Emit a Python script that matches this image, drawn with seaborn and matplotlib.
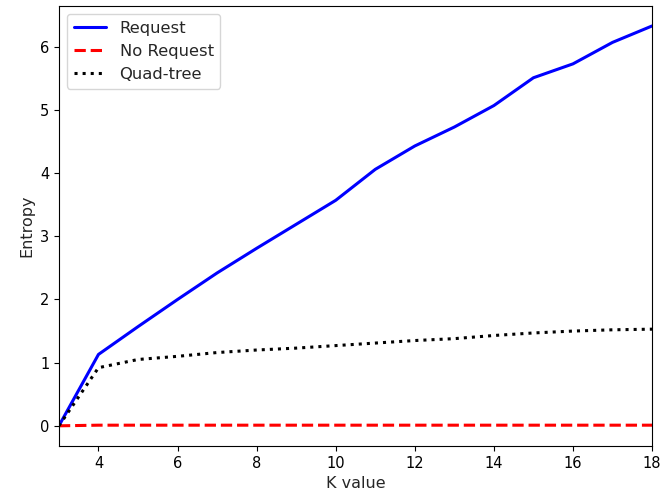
import matplotlib
matplotlib.use("Agg")
import matplotlib.pyplot as plt
import seaborn as sns
import pandas as pd

k_values = [3, 4, 5, 6, 7, 8, 9, 10, 11, 12, 13, 14, 15, 16, 17, 18]
request = [0.0, 1.13, 1.57, 2.0, 2.42, 2.81, 3.19, 3.57, 4.06, 4.43, 4.73, 5.07, 5.51, 5.73, 6.07, 6.33]
no_request = [0.0, 0.01, 0.01, 0.01, 0.01, 0.01, 0.01, 0.01, 0.01, 0.01, 0.01, 0.01, 0.01, 0.01, 0.01, 0.01]
quad_tree = [0.0, 0.92, 1.05, 1.1, 1.16, 1.2, 1.23, 1.27, 1.31, 1.35, 1.38, 1.43, 1.47, 1.5, 1.52, 1.53]

sns.set_style("ticks")
plt.rcParams['font.family'] = ['DejaVu Sans']

fig, ax = plt.subplots(figsize=(6.62, 4.97), dpi=100)
fig.subplots_adjust(left=0.089, right=0.985, top=0.988, bottom=0.103)

sns.lineplot(x=k_values, y=request, ax=ax, color="blue", linestyle="-", linewidth=2.2, label="Request")
sns.lineplot(x=k_values, y=no_request, ax=ax, color="red", linestyle="--", linewidth=2.2, label="No Request")
sns.lineplot(x=k_values, y=quad_tree, ax=ax, color="black", linestyle=":", linewidth=2.2, label="Quad-tree")

ax.set_xlim(3, 18)
ax.set_xticks([4, 6, 8, 10, 12, 14, 16, 18])
ax.set_xlabel("K value", fontsize=11.5)
ax.set_ylabel("Entropy", fontsize=11.5)
for s in ax.spines.values():
    s.set_visible(True)
    s.set_color("black")
    s.set_linewidth(0.8)
ax.tick_params(direction="out", length=3.5, width=0.8, colors="black", labelsize=10.5)
ax.legend(loc="upper left", frameon=True, fontsize=11.8)

fig.savefig("out.png", dpi=100)
